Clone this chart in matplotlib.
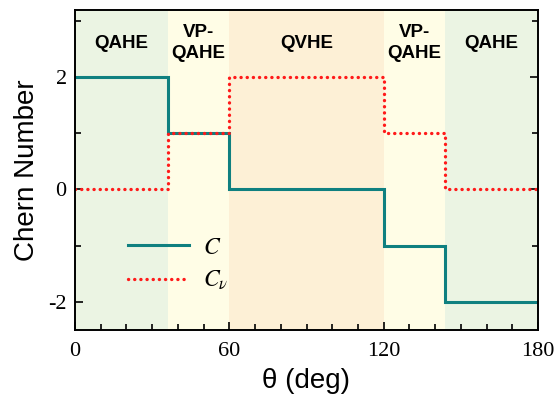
import matplotlib
matplotlib.use("Agg")
import matplotlib.pyplot as plt
from matplotlib.ticker import MultipleLocator
from matplotlib.lines import Line2D

plt.rcParams["mathtext.fontset"] = "stix"
plt.rcParams["axes.unicode_minus"] = False

# Data
theta_edges = [0, 36, 60, 120, 144, 180]
C_vals = [2, 1, 0, -1, -2]
Cv_vals = [0, 1, 2, 1, 0]
region_labels = ["QAHE", "VP-\nQAHE", "QVHE", "VP-\nQAHE", "QAHE"]
region_colors = ["#ebf4e3", "#fffde6", "#fdf0d6", "#fffde6", "#ebf4e3"]
x_ticks = [0, 60, 120, 180]
y_ticks = [-2, 0, 2]

teal = "#0f8080"
red = "#ff1a1a"
dots = (0, (0.05, 1.8))

fig = plt.figure(figsize=(5.57, 3.97), dpi=100)
ax = fig.add_axes([75/557, 1-330/397, 463/557, 320/397])

for i in range(len(region_labels)):
    ax.axvspan(theta_edges[i], theta_edges[i+1], color=region_colors[i], lw=0, zorder=0)
    xm = (theta_edges[i] + theta_edges[i+1]) / 2
    ax.text(xm, 2.6, region_labels[i], ha="center", va="center", fontsize=13.5,
            fontweight="bold", family="Liberation Sans", linespacing=1.35, zorder=3)

ax.stairs(C_vals, theta_edges, color=teal, lw=2.2, baseline=None, zorder=2)
ax.stairs(Cv_vals, theta_edges, color=red, lw=2.4, ls=dots, baseline=None,
          capstyle="round", zorder=2)

h1 = Line2D([], [], color=teal, lw=2.2)
h2 = Line2D([], [], color=red, lw=2.4, ls=dots, dash_capstyle="round")
leg = ax.legend([h1, h2], [r"$C$", r"$C_{\nu}$"], loc="center left",
                bbox_to_anchor=(0.114, 0.208), frameon=False, fontsize=17,
                handlelength=2.6, labelspacing=0.4, handletextpad=0.6,
                borderpad=0, borderaxespad=0)

ax.set_xlim(0, 180)
ax.set_ylim(-2.5, 3.19)
ax.set_xticks(x_ticks)
ax.set_yticks(y_ticks)
ax.xaxis.set_minor_locator(MultipleLocator(10))
ax.yaxis.set_minor_locator(MultipleLocator(1))
ax.tick_params(which="both", direction="in", top=False, right=True)
ax.tick_params(which="major", length=6, width=1.2)
ax.tick_params(which="minor", length=4, width=1.2)
for lab in ax.get_xticklabels() + ax.get_yticklabels():
    lab.set_family("Liberation Serif")
    lab.set_fontsize(16)
ax.tick_params(axis="x", pad=9)
ax.tick_params(axis="y", pad=6)
for s in ax.spines.values():
    s.set_linewidth(1.4)

ax.set_xlabel("θ (deg)", fontsize=20, family="Liberation Sans", labelpad=5)
ax.set_ylabel("Chern Number", fontsize=20, family="Liberation Sans", labelpad=6)

fig.savefig("out.png", dpi=100)
